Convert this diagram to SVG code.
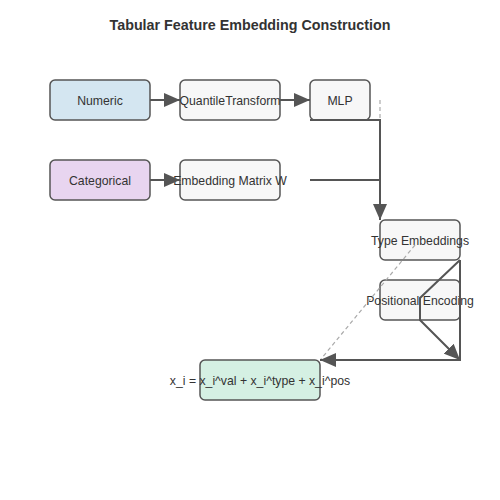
<svg xmlns="http://www.w3.org/2000/svg" width="500" height="500" viewBox="0 0 500 500">
<defs>
<marker id="arr" viewBox="0 0 16 14" refX="16" refY="7" markerWidth="16" markerHeight="14" markerUnits="userSpaceOnUse" orient="auto">
<path d="M0,0 L16,7 L0,14 z" fill="#555"/>
</marker>
<style>
.node rect{stroke:#555;stroke-width:1.5}
.node text{font-family:"Liberation Sans",Arial,sans-serif;font-size:12.25px;fill:#333;text-anchor:middle;dominant-baseline:central}
.edge{fill:none;stroke:#555;stroke-width:2}
.dash{fill:none;stroke:#aaa;stroke-width:1.2;stroke-dasharray:4 3}
.box{fill:#f7f7f7}
</style>
</defs>
<rect width="500" height="500" fill="#fff"/>
<text x="250" y="30" text-anchor="middle" font-family="'Liberation Sans',Arial,sans-serif" font-size="14.3" font-weight="bold" fill="#333">Tabular Feature Embedding Construction</text>
<g id="numeric" class="node"><rect x="50" y="80" width="100" height="40" rx="5" fill="#d4e6f1"/><text x="100" y="101">Numeric</text></g>
<g id="quantile" class="node"><rect class="box" x="180" y="80" width="100" height="40" rx="5"/><text x="230" y="101">QuantileTransform</text></g>
<g id="mlp" class="node"><rect class="box" x="310" y="80" width="60" height="40" rx="5"/><text x="340" y="101">MLP</text></g>
<g id="categorical" class="node"><rect x="50" y="160" width="100" height="40" rx="5" fill="#e8d5f0"/><text x="100" y="181">Categorical</text></g>
<g id="embmatrix" class="node"><rect class="box" x="180" y="160" width="100" height="40" rx="5"/><text x="230" y="181">Embedding Matrix W</text></g>
<g id="typeemb" class="node"><rect class="box" x="380" y="220" width="80" height="40" rx="5"/><text x="420" y="241">Type Embeddings</text></g>
<g id="posenc" class="node"><rect class="box" x="380" y="280" width="80" height="40" rx="5"/><text x="420" y="301">Positional Encoding</text></g>
<g id="sum" class="node"><rect x="200" y="360" width="120" height="40" rx="5" fill="#d5f0e3"/><text x="260" y="381">x_i = x_i^val + x_i^type + x_i^pos</text></g>
<g id="connectors">
<line class="dash" x1="380" y1="100" x2="380" y2="120"/>
<line class="dash" x1="415" y1="245" x2="321" y2="359"/>
<line class="edge" x1="150" y1="100" x2="180" y2="100" style="marker-end:url(#arr)"/>
<line class="edge" x1="280" y1="100" x2="310" y2="100" style="marker-end:url(#arr)"/>
<line class="edge" x1="150" y1="180" x2="180" y2="180" style="marker-end:url(#arr)"/>
<polyline class="edge" points="310,120 380,120 380,220" style="marker-end:url(#arr)"/>
<line class="edge" x1="310" y1="180" x2="380" y2="180"/>
<polyline class="edge" points="460,260 420,298 420,320 460,360" style="marker-end:url(#arr)"/>
<polyline class="edge" points="460,260 460,360 320,360" style="marker-end:url(#arr)"/>
</g>
</svg>
